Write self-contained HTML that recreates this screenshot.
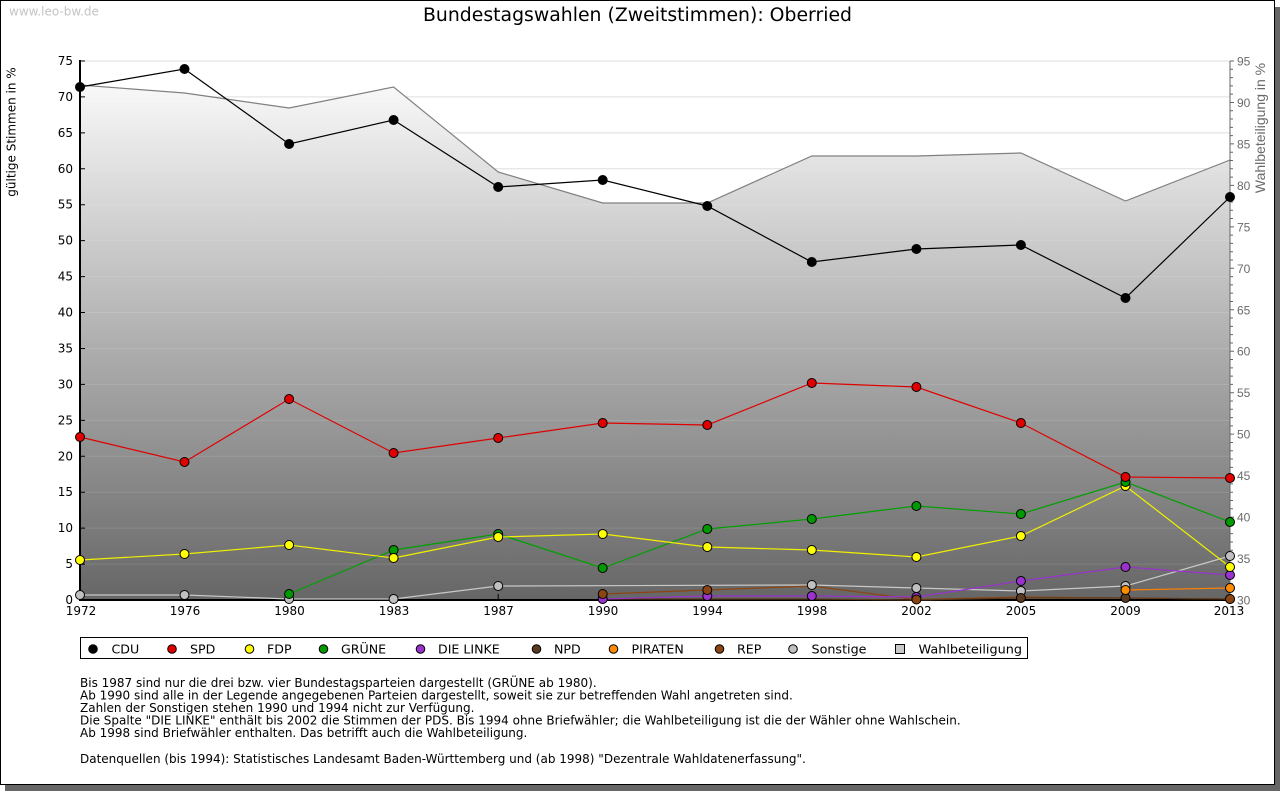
<!DOCTYPE html>
<html><head><meta charset="utf-8"><style>
html,body{margin:0;padding:0;background:#fff;}
svg{display:block;}
text{font-family:"DejaVu Sans","Liberation Sans",sans-serif;}
text.r{font-family:"Liberation Sans",sans-serif;}
</style></head><body>
<svg width="1280" height="791" viewBox="0 0 1280 791" xmlns="http://www.w3.org/2000/svg">
<defs>
<linearGradient id="ag" gradientUnits="userSpaceOnUse" x1="0" y1="61" x2="0" y2="600">
<stop offset="0" stop-color="#ffffff"/><stop offset="1" stop-color="#666666"/>
</linearGradient>
</defs>
<rect x="1275" y="7" width="5" height="784" fill="#666"/>
<rect x="5" y="785" width="1275" height="6" fill="#666"/>
<rect x="0.5" y="0.5" width="1274" height="784" fill="#fff" stroke="#000" stroke-width="1"/>
<text x="9" y="15.5" font-size="12" fill="#c4c4c4">www.leo-bw.de</text>
<text x="637.5" y="21" font-size="18.5" text-anchor="middle" textLength="429" lengthAdjust="spacingAndGlyphs" fill="#000">Bundestagswahlen (Zweitstimmen): Oberried</text>
<g stroke="#dcdcdc" stroke-width="1">
<path d="M80 61H1230M80 96.93H1230M80 132.87H1230M80 168.8H1230M80 204.73H1230M80 240.67H1230M80 276.6H1230M80 312.53H1230M80 348.47H1230M80 384.4H1230M80 420.33H1230M80 456.27H1230M80 492.2H1230M80 528.13H1230M80 564.07H1230"/>
</g>
<polygon points="80,85 184.5,93 289.1,108 393.6,87 498.2,172 602.7,203 707.3,203 811.8,156 916.4,156 1020.9,153 1125.5,201 1230,160 1230,600 80,600" fill="url(#ag)"/>
<g stroke="#ffffff" stroke-opacity="0.12" stroke-width="1">
<path d="M80 96.93H1230M80 132.87H1230M80 168.8H1230M80 204.73H1230M80 240.67H1230M80 276.6H1230M80 312.53H1230M80 348.47H1230M80 384.4H1230M80 420.33H1230M80 456.27H1230M80 492.2H1230M80 528.13H1230M80 564.07H1230"/>
</g>
<polyline points="80,85 184.5,93 289.1,108 393.6,87 498.2,172 602.7,203 707.3,203 811.8,156 916.4,156 1020.9,153 1125.5,201 1230,160" fill="none" stroke="#808080" stroke-width="1.2"/>
<line x1="1230" y1="61" x2="1230" y2="600" stroke="#666" stroke-width="1"/>
<path stroke="#666" stroke-width="1" fill="none" d="M1230 600h4M1230 591.71h3M1230 583.42h3M1230 575.12h3M1230 566.83h3M1230 558.54h4M1230 550.25h3M1230 541.95h3M1230 533.66h3M1230 525.37h3M1230 517.08h4M1230 508.78h3M1230 500.49h3M1230 492.2h3M1230 483.91h3M1230 475.62h4M1230 467.32h3M1230 459.03h3M1230 450.74h3M1230 442.45h3M1230 434.15h4M1230 425.86h3M1230 417.57h3M1230 409.28h3M1230 400.98h3M1230 392.69h4M1230 384.4h3M1230 376.11h3M1230 367.82h3M1230 359.52h3M1230 351.23h4M1230 342.94h3M1230 334.65h3M1230 326.35h3M1230 318.06h3M1230 309.77h4M1230 301.48h3M1230 293.18h3M1230 284.89h3M1230 276.6h3M1230 268.31h4M1230 260.02h3M1230 251.72h3M1230 243.43h3M1230 235.14h3M1230 226.85h4M1230 218.55h3M1230 210.26h3M1230 201.97h3M1230 193.68h3M1230 185.38h4M1230 177.09h3M1230 168.8h3M1230 160.51h3M1230 152.22h3M1230 143.92h4M1230 135.63h3M1230 127.34h3M1230 119.05h3M1230 110.75h3M1230 102.46h4M1230 94.17h3M1230 85.88h3M1230 77.58h3M1230 69.29h3M1230 61h4"/>
<g font-size="12" fill="#6a6a6a">
<text class="r" x="1237" y="604.5">30</text>
<text class="r" x="1237" y="563">35</text>
<text class="r" x="1237" y="521.5">40</text>
<text class="r" x="1237" y="480">45</text>
<text class="r" x="1237" y="438.6">50</text>
<text class="r" x="1237" y="397.2">55</text>
<text class="r" x="1237" y="355.7">60</text>
<text class="r" x="1237" y="314.3">65</text>
<text class="r" x="1237" y="272.8">70</text>
<text class="r" x="1237" y="231.3">75</text>
<text class="r" x="1237" y="189.9">80</text>
<text class="r" x="1237" y="148.4">85</text>
<text class="r" x="1237" y="107">90</text>
<text class="r" x="1237" y="65.5">95</text>
</g>
<text class="r" transform="translate(1265,128) rotate(-90)" text-anchor="middle" font-size="14" fill="#6a6a6a">Wahlbeteiligung in %</text>
<text transform="translate(15.5,132) rotate(-90)" text-anchor="middle" font-size="12" fill="#000">gültige Stimmen in %</text>
<g font-size="12" fill="#000" text-anchor="end">
<text x="73" y="604">0</text>
<text x="73" y="568">5</text>
<text x="73" y="532.1">10</text>
<text x="73" y="496.2">15</text>
<text x="73" y="460.3">20</text>
<text x="73" y="424.3">25</text>
<text x="73" y="388.4">30</text>
<text x="73" y="352.5">35</text>
<text x="73" y="316.5">40</text>
<text x="73" y="280.6">45</text>
<text x="73" y="244.7">50</text>
<text x="73" y="208.7">55</text>
<text x="73" y="172.8">60</text>
<text x="73" y="136.9">65</text>
<text x="73" y="100.9">70</text>
<text x="73" y="65">75</text>
</g>
<path stroke="#000" stroke-width="1" d="M80 61h5M80 96.93h5M80 132.87h5M80 168.8h5M80 204.73h5M80 240.67h5M80 276.6h5M80 312.53h5M80 348.47h5M80 384.4h5M80 420.33h5M80 456.27h5M80 492.2h5M80 528.13h5M80 564.07h5"/>
<path stroke="#000" stroke-width="1" d="M184.5 600v-6M289.1 600v-6M393.6 600v-6M498.2 600v-6M602.7 600v-6M707.3 600v-6M811.8 600v-6M916.4 600v-6M1020.9 600v-6M1125.5 600v-6"/>
<line x1="80" y1="60" x2="80" y2="601" stroke="#000" stroke-width="2"/>
<line x1="79" y1="600" x2="1230" y2="600" stroke="#000" stroke-width="2"/>
<g font-size="12" fill="#000" text-anchor="middle">
<text x="81" y="615">1972</text>
<text x="185" y="615">1976</text>
<text x="289.5" y="615">1980</text>
<text x="394" y="615">1983</text>
<text x="498.5" y="615">1987</text>
<text x="603" y="615">1990</text>
<text x="707.5" y="615">1994</text>
<text x="812" y="615">1998</text>
<text x="916.5" y="615">2002</text>
<text x="1021" y="615">2005</text>
<text x="1125.5" y="615">2009</text>
<text x="1229" y="615">2013</text>
</g>
<g fill="none" stroke-width="1.2">
<polyline stroke="#c8c8c8" points="80,595 184.5,595 289.1,599 393.6,599 498.2,586 811.8,585 916.4,588 1020.9,591 1125.5,586 1230,556"/>
<polyline stroke="#8b4513" points="602.7,594 707.3,590 811.8,586 916.4,599.5 1020.9,597 1125.5,598 1230,599"/>
<polyline stroke="#ff8000" points="1125.5,590 1230,588"/>
<polyline stroke="#5a3a1e" points="602.7,599 707.3,599 811.8,599 916.4,600 1020.9,598 1125.5,598 1230,599"/>
<polyline stroke="#9933cc" points="602.7,599 707.3,596 811.8,596 916.4,597 1020.9,581 1125.5,567 1230,575"/>
<polyline stroke="#00a000" points="289.1,594 393.6,550 498.2,534 602.7,568 707.3,529 811.8,519 916.4,506 1020.9,514 1125.5,482 1230,522"/>
<polyline stroke="#f0f000" points="80,560 184.5,554 289.1,545 393.6,558 498.2,537 602.7,534 707.3,547 811.8,550 916.4,557 1020.9,536 1125.5,486 1230,567"/>
<polyline stroke="#e00000" points="80,437 184.5,462 289.1,399 393.6,453 498.2,438 602.7,423 707.3,425 811.8,383 916.4,387 1020.9,423 1125.5,477 1230,478"/>
<polyline stroke="#000" points="80,87 184.5,69 289.1,144 393.6,120 498.2,187 602.7,180 707.3,206 811.8,262 916.4,249 1020.9,245 1125.5,298 1230,197"/>
</g>
<g stroke="#000" stroke-width="1">
<g fill="#c0c0c0">
<circle cx="80" cy="595" r="4.5"/><circle cx="184.5" cy="595" r="4.5"/><circle cx="289.1" cy="599" r="4.5"/><circle cx="393.6" cy="599" r="4.5"/><circle cx="498.2" cy="586" r="4.5"/><circle cx="811.8" cy="585" r="4.5"/><circle cx="916.4" cy="588" r="4.5"/><circle cx="1020.9" cy="591" r="4.5"/><circle cx="1125.5" cy="586" r="4.5"/><circle cx="1230" cy="556" r="4.5"/>
</g>
<g fill="#5a3a1e">
<circle cx="602.7" cy="599" r="4.5"/><circle cx="1020.9" cy="598" r="4.5"/><circle cx="1125.5" cy="598" r="4.5"/><circle cx="1230" cy="599" r="4.5"/>
</g>
<g fill="#9933cc">
<circle cx="602.7" cy="599" r="4.5"/><circle cx="707.3" cy="596" r="4.5"/><circle cx="811.8" cy="596" r="4.5"/><circle cx="916.4" cy="597" r="4.5"/><circle cx="1020.9" cy="581" r="4.5"/><circle cx="1125.5" cy="567" r="4.5"/><circle cx="1230" cy="575" r="4.5"/>
</g>
<g fill="#8b4513">
<circle cx="602.7" cy="594" r="4.5"/><circle cx="707.3" cy="590" r="4.5"/><circle cx="916.4" cy="599.5" r="4.5"/><circle cx="1230" cy="599" r="4.5"/>
</g>
<g fill="#ff8c00">
<circle cx="1125.5" cy="590" r="4.5"/><circle cx="1230" cy="588" r="4.5"/>
</g>
<g fill="#009900">
<circle cx="289.1" cy="594" r="4.5"/><circle cx="393.6" cy="550" r="4.5"/><circle cx="498.2" cy="534" r="4.5"/><circle cx="602.7" cy="568" r="4.5"/><circle cx="707.3" cy="529" r="4.5"/><circle cx="811.8" cy="519" r="4.5"/><circle cx="916.4" cy="506" r="4.5"/><circle cx="1020.9" cy="514" r="4.5"/><circle cx="1230" cy="522" r="4.5"/>
</g>
<g fill="#ffff00">
<circle cx="80" cy="560" r="4.5"/><circle cx="184.5" cy="554" r="4.5"/><circle cx="289.1" cy="545" r="4.5"/><circle cx="393.6" cy="558" r="4.5"/><circle cx="498.2" cy="537" r="4.5"/><circle cx="602.7" cy="534" r="4.5"/><circle cx="707.3" cy="547" r="4.5"/><circle cx="811.8" cy="550" r="4.5"/><circle cx="916.4" cy="557" r="4.5"/><circle cx="1020.9" cy="536" r="4.5"/><circle cx="1125.5" cy="486" r="4.5"/><circle cx="1230" cy="567" r="4.5"/>
</g>
<circle cx="1125.5" cy="482" r="4.5" fill="#009900"/>
<g fill="#e00000">
<circle cx="80" cy="437" r="4.5"/><circle cx="184.5" cy="462" r="4.5"/><circle cx="289.1" cy="399" r="4.5"/><circle cx="393.6" cy="453" r="4.5"/><circle cx="498.2" cy="438" r="4.5"/><circle cx="602.7" cy="423" r="4.5"/><circle cx="707.3" cy="425" r="4.5"/><circle cx="811.8" cy="383" r="4.5"/><circle cx="916.4" cy="387" r="4.5"/><circle cx="1020.9" cy="423" r="4.5"/><circle cx="1125.5" cy="477" r="4.5"/><circle cx="1230" cy="478" r="4.5"/>
</g>
<g fill="#000">
<circle cx="80" cy="87" r="4.5"/><circle cx="184.5" cy="69" r="4.5"/><circle cx="289.1" cy="144" r="4.5"/><circle cx="393.6" cy="120" r="4.5"/><circle cx="498.2" cy="187" r="4.5"/><circle cx="602.7" cy="180" r="4.5"/><circle cx="707.3" cy="206" r="4.5"/><circle cx="811.8" cy="262" r="4.5"/><circle cx="916.4" cy="249" r="4.5"/><circle cx="1020.9" cy="245" r="4.5"/><circle cx="1125.5" cy="298" r="4.5"/><circle cx="1230" cy="197" r="4.5"/>
</g>
</g>
<rect x="80.5" y="637.5" width="947" height="21" fill="#fff" stroke="#000" stroke-width="1"/>
<g stroke="#000" stroke-width="1">
<circle cx="93" cy="649" r="4.3" fill="#000"/>
<circle cx="172" cy="649" r="4.3" fill="#e00000"/>
<circle cx="249.5" cy="649" r="4.3" fill="#ffff00"/>
<circle cx="323.5" cy="649" r="4.3" fill="#009900"/>
<circle cx="420.5" cy="649" r="4.3" fill="#9933cc"/>
<circle cx="536.5" cy="649" r="4.3" fill="#5a3a1e"/>
<circle cx="613.5" cy="649" r="4.3" fill="#ff8c00"/>
<circle cx="719.5" cy="649" r="4.3" fill="#8b4513"/>
<circle cx="793" cy="649" r="4.3" fill="#c0c0c0"/>
<rect x="895.5" y="644.5" width="9" height="9" fill="#c8c8c8"/>
</g>
<g font-size="12.6" fill="#000">
<text x="111.5" y="653.5">CDU</text>
<text x="190" y="653.5">SPD</text>
<text x="267" y="653.5">FDP</text>
<text x="341" y="653.5">GRÜNE</text>
<text x="438" y="653.5">DIE LINKE</text>
<text x="554" y="653.5">NPD</text>
<text x="631.5" y="653.5">PIRATEN</text>
<text x="737" y="653.5">REP</text>
<text x="811.5" y="653.5" textLength="55" lengthAdjust="spacingAndGlyphs">Sonstige</text>
<text x="918.5" y="653.5" textLength="103.5" lengthAdjust="spacingAndGlyphs">Wahlbeteiligung</text>
</g>
<g font-size="12" fill="#000">
<text x="80" y="687">Bis 1987 sind nur die drei bzw. vier Bundestagsparteien dargestellt (GRÜNE ab 1980).</text>
<text x="80" y="699.5">Ab 1990 sind alle in der Legende angegebenen Parteien dargestellt, soweit sie zur betreffenden Wahl angetreten sind.</text>
<text x="80" y="712">Zahlen der Sonstigen stehen 1990 und 1994 nicht zur Verfügung.</text>
<text x="80" y="724.5">Die Spalte "DIE LINKE" enthält bis 2002 die Stimmen der PDS. Bis 1994 ohne Briefwähler; die Wahlbeteiligung ist die der Wähler ohne Wahlschein.</text>
<text x="80" y="737">Ab 1998 sind Briefwähler enthalten. Das betrifft auch die Wahlbeteiligung.</text>
<text x="80" y="763">Datenquellen (bis 1994): Statistisches Landesamt Baden-Württemberg und (ab 1998) "Dezentrale Wahldatenerfassung".</text>
</g>
</svg>
</body></html>
